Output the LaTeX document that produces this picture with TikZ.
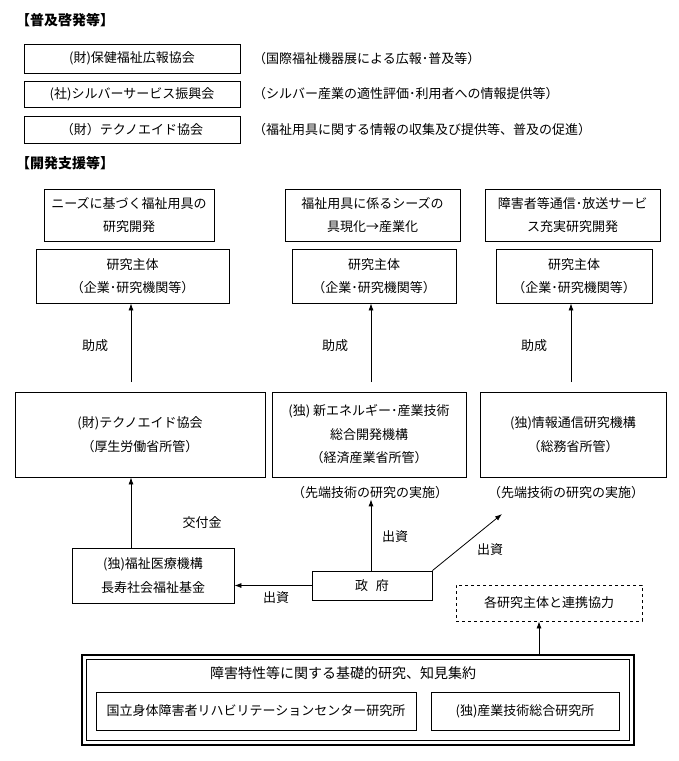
\documentclass[tikz,border=0pt]{standalone}
\usepackage{fontspec}
\setmainfont{Noto Sans CJK JP}
\usetikzlibrary{arrows.meta}
\begin{document}
\begin{tikzpicture}[x=1pt,y=-1pt,
  every node/.style={font=\fontsize{13}{23.5}\selectfont, inner sep=0pt},
  box/.style={draw, line width=0.8pt, align=center},
  dbox/.style={draw, line width=0.8pt, dashed, align=center},
  lbl/.style={align=center},
  hdr/.style={font=\fontsize{14}{16}\selectfont\bfseries, anchor=west},
  arr/.style={line width=0.8pt, -{Latex[length=7pt,width=5pt]}}]
\useasboundingbox (0,0) rectangle (678,761);

% headers
\node[hdr] (h1) at (16,20) {【普及啓発等】};
\node[hdr] (h2) at (16,163) {【開発支援等】};

% dissemination boxes
\node[box, minimum width=216pt, minimum height=29pt] (p1) at (132,58.5) {(財)保健福祉広報協会};
\node[box, minimum width=216pt, minimum height=26pt] (p2) at (132,94) {(社)シルバーサービス振興会};
\node[box, minimum width=216pt, minimum height=27pt] (p3) at (132,129.5) {（財）テクノエイド協会};
\node[anchor=west] (t1) at (253,58.5) {（国際福祉機器展による広報･普及等）};
\node[anchor=west] (t2) at (253,94) {（シルバー産業の適性評価･利用者への情報提供等）};
\node[anchor=west] (t3) at (253,129.5) {（福祉用具に関する情報の収集及び提供等、普及の促進）};

% development themes
\node[box, minimum width=170pt, minimum height=52pt] (A) at (129,215) {ニーズに基づく福祉用具の\\研究開発};
\node[box, minimum width=175pt, minimum height=52pt] (B) at (372.5,215) {福祉用具に係るシーズの\\具現化→産業化};
\node[box, minimum width=175pt, minimum height=52pt] (C) at (572.5,215) {障害者等通信･放送サービ\\ス充実研究開発};

\node[box, minimum width=193pt, minimum height=54pt] (A2) at (132.5,276) {研究主体\\（企業･研究機関等）};
\node[box, minimum width=164pt, minimum height=54pt] (B2) at (374,276) {研究主体\\（企業･研究機関等）};
\node[box, minimum width=156pt, minimum height=54pt] (C2) at (574,276) {研究主体\\（企業･研究機関等）};

% organisations
\node[box, minimum width=250pt, minimum height=85pt] (D) at (140,434.5) {(財)テクノエイド協会\\（厚生労働省所管）};
\node[box, minimum width=194pt, minimum height=85pt] (E) at (369,434.5) {(独) 新エネルギー･産業技術\\総合開発機構\\（経済産業省所管）};
\node[box, minimum width=186pt, minimum height=85pt] (F) at (573,434.5) {(独)情報通信研究機構\\（総務省所管）};
\node[lbl] (Ea) at (370,493) {（先端技術の研究の実施）};
\node[lbl] (Fa) at (566,493) {（先端技術の研究の実施）};

\node[box, minimum width=162pt, minimum height=55pt] (G) at (153,575.5) {(独)福祉医療機構\\長寿社会福祉基金};
\node[box, minimum width=120pt, minimum height=29pt] (gov) at (372,585.5) {政\hspace{0.6em}府};
\node[dbox, minimum width=186pt, minimum height=36pt] (dsh) at (549,603) {各研究主体と連携協力};

% bottom double box
\node[draw, line width=1.6pt, minimum width=552pt, minimum height=90pt] (outer) at (358,700) {};
\node[draw, line width=0.6pt, minimum width=543pt, minimum height=81pt] (inner) at (358,700) {};
\node[lbl, font=\fontsize{14}{16}\selectfont] (ttl) at (343,673) {障害特性等に関する基礎的研究、知見集約};
\node[box, minimum width=320pt, minimum height=38pt] (I1) at (256,711) {国立身体障害者リハビリテーションセンター研究所};
\node[box, minimum width=188pt, minimum height=38pt] (I2) at (525,711) {(独)産業技術総合研究所};

% arrows: 助成
\coordinate (s1) at (131,382);
\coordinate (s2) at (371,382);
\coordinate (s3) at (571,382);
\draw[arr] (s1) -- (s1 |- A2.south);
\draw[arr] (s2) -- (s2 |- B2.south);
\draw[arr] (s3) -- (s3 |- C2.south);
\node[lbl] (l1) at (95,346) {助成};
\node[lbl] (l2) at (335,346) {助成};
\node[lbl] (l3) at (534,346) {助成};

% 交付金
\coordinate (k1) at (131,548);
\draw[arr] (k1) -- (k1 |- D.south);
\node[lbl] (lk) at (202,523) {交付金};

% 出資
\coordinate (g1) at (371,571);
\draw[arr] (g1) -- (g1 |- Ea.south);
\node[lbl] (lg1) at (395,537) {出資};
\coordinate (g2t) at (502,514);
\draw[arr] (gov.north east) -- (g2t);
\node[lbl] (lg2) at (490,550) {出資};
\draw[arr] (gov.west) -- (gov.west -| G.east);
\node[lbl] (lg3) at (276,598) {出資};

% collaboration
\coordinate (c1) at (539,655);
\draw[arr] (c1) -- (c1 |- dsh.south);
\end{tikzpicture}
\end{document}
